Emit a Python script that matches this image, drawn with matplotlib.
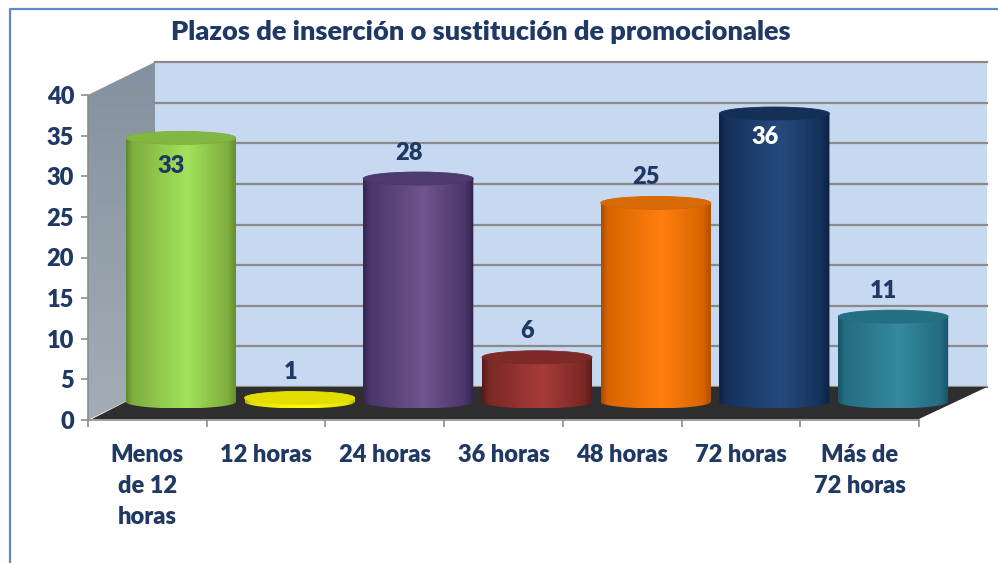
from matplotlib import pyplot as plt
from matplotlib.colors import LinearSegmentedColormap
from matplotlib.patches import Ellipse, PathPatch, Polygon
from matplotlib.path import Path
import numpy as np

categorias = ['Menos\nde 12\nhoras', '12 horas', '24 horas', '36 horas', '48 horas', '72 horas', 'Más de\n72 horas']
valores = [33, 1, 28, 6, 25, 36, 11]
color_texto = ['#1f3864', '#1f3864', '#1f3864', '#1f3864', '#1f3864', '#ffffff', '#1f3864']
borde = ['#7fae3e', '#e6e000', '#4a3669', '#7a2825', '#d86400', '#14315a', '#246c82']
centro = ['#a2e35b', '#ffff00', '#70548f', '#a83c38', '#ff7f10', '#264a7e', '#35899f']
tapa = ['#84b741', '#e4dd00', '#4d3a70', '#7e2a28', '#d96a08', '#153055', '#237085']
oscuro = ['#5f8a2c', '#b8b000', '#33244f', '#561a18', '#a84c00', '#0c2240', '#175468']
y_ticks = [0, 5, 10, 15, 20, 25, 30, 35, 40]

W, H = 998, 563
AZUL = '#1f3864'
GRIS = '#8c8c8c'
plt.rcParams['font.family'] = ['Lato', 'DejaVu Sans']
PESO = 'heavy'


def ejes_px(fig, x0, x1, y_top, y_bot):
    return fig.add_axes([x0 / W, 1 - y_bot / H, (x1 - x0) / W, (y_bot - y_top) / H])


fig = plt.figure(figsize=(W / 100, H / 100), dpi=100)

# fondo: marco y pared lateral en pixeles
bg = fig.add_axes([0, 0, 1, 1])
bg.axis('off')
bg.plot([10, 10, W], [H, 9, 9], color='#5b8bc9', lw=1.6)
grad = bg.imshow(np.linspace(0, 1, 128).reshape(-1, 1), extent=(88, 155, 420, 62), aspect='auto',
                 cmap=LinearSegmentedColormap.from_list('lat', ['#84919e', '#a3adb6']))
grad.set_clip_path(Polygon([(88, 95), (155, 62), (155, 387), (88, 420)], transform=bg.transData))
bg.set_xlim(0, W)
bg.set_ylim(H, 0)

# pared del fondo con su rejilla
pared = ejes_px(fig, 155, 987, 62, 387)
pared.set_facecolor('#c6d9f1')
pared.set_xlim(0, 1)
pared.set_ylim(0, 40)
pared.set_yticks(y_ticks)
pared.set_xticks([])
pared.tick_params(length=0, labelleft=False)
pared.grid(axis='y', color='#8a8a8a', lw=1.6)
for s in pared.spines.values():
    s.set_visible(False)
for line in pared.get_ygridlines():
    line.set_clip_on(False)

# suelo oscuro, encima de la pared
bg2 = fig.add_axes([0, 0, 1, 1])
bg2.patch.set_alpha(0)
bg2.set_xlim(0, W)
bg2.set_ylim(H, 0)
bg2.axis('off')
bg2.add_patch(Polygon([(92, 419), (155, 387), (987, 387), (919, 419)], color='#2e2e2e', lw=0))

# plano frontal: ejes y marcas
ax = ejes_px(fig, 88, 919, 95, 420)
ax.patch.set_alpha(0)
ax.set_xlim(0, 7)
ax.set_ylim(0, 40)
ax.set_yticks(y_ticks)
ax.set_xticks(range(8))
ax.set_xticklabels([])
ax.set_xticks(np.arange(7) + 0.5, categorias, minor=True)
for s in ['top', 'right']:
    ax.spines[s].set_visible(False)
ax.spines['left'].set_color(GRIS)
ax.spines['bottom'].set_color(GRIS)
ax.spines['left'].set_linewidth(1.2)
ax.spines['bottom'].set_linewidth(1.2)
ax.tick_params(axis='both', which='major', color=GRIS, width=1.2, length=5)
ax.tick_params(axis='y', labelsize=17, labelcolor=AZUL, pad=5)
ax.tick_params(axis='x', which='minor', length=0, labelsize=17, labelcolor=AZUL, pad=17.5)
for t in ax.get_xticklabels(minor=True):
    t.set_linespacing(1.5)
    t.set_verticalalignment('top')
    t.set_fontweight(PESO)
for t in ax.get_yticklabels():
    t.set_fontweight(PESO)

# cilindros en el plano medio
barras = ejes_px(fig, 121.5, 952.5, 81, 414.125)
barras.patch.set_alpha(0)
barras.axis('off')
ancho = 0.927
base = 0.5
semi = 0.8
xs = np.arange(7) + 0.5
rects = barras.bar(xs, [v - base for v in valores], width=ancho, bottom=base, color=borde, lw=0)

t = np.linspace(np.pi, 2 * np.pi, 40)
for i, v in enumerate(valores):
    x = xs[i]
    arco = np.column_stack([x + ancho / 2 * np.cos(t), base + semi * np.sin(t)])
    verts = np.vstack([[[x - ancho / 2, v]], arco, [[x + ancho / 2, v]], [[x - ancho / 2, v]]])
    cmap = LinearSegmentedColormap.from_list('c%d' % i, [(0, oscuro[i]), (0.06, borde[i]), (0.55, centro[i]), (0.92, borde[i]), (1, oscuro[i])])
    im = barras.imshow(np.linspace(0, 1, 256).reshape(1, -1), extent=(x - ancho / 2, x + ancho / 2, base - semi, v),
                       aspect='auto', cmap=cmap, zorder=2)
    im.set_clip_path(PathPatch(Path(verts), transform=barras.transData))
    barras.add_patch(Ellipse((x, v), ancho, 2 * semi, facecolor=tapa[i], edgecolor=borde[i], lw=0.6, zorder=3))
    if i in (0, 5):
        off = -28 if i == 0 else -23
    else:
        off = 26
    barras.annotate(str(v), (x, v), xytext=(-6.8, off * 0.72), textcoords='offset points', ha='center', va='center',
                    fontsize=17, fontweight=PESO, color=color_texto[i], zorder=4)
barras.set_xlim(0, 7)
barras.set_ylim(-1, 40)

fig.text(481 / W, 1 - 32 / H, 'Plazos de inserción o sustitución de promocionales', ha='center', va='center',
         fontsize=19.5, fontweight=PESO, color=AZUL)
plt.savefig('out.png', dpi=100)
